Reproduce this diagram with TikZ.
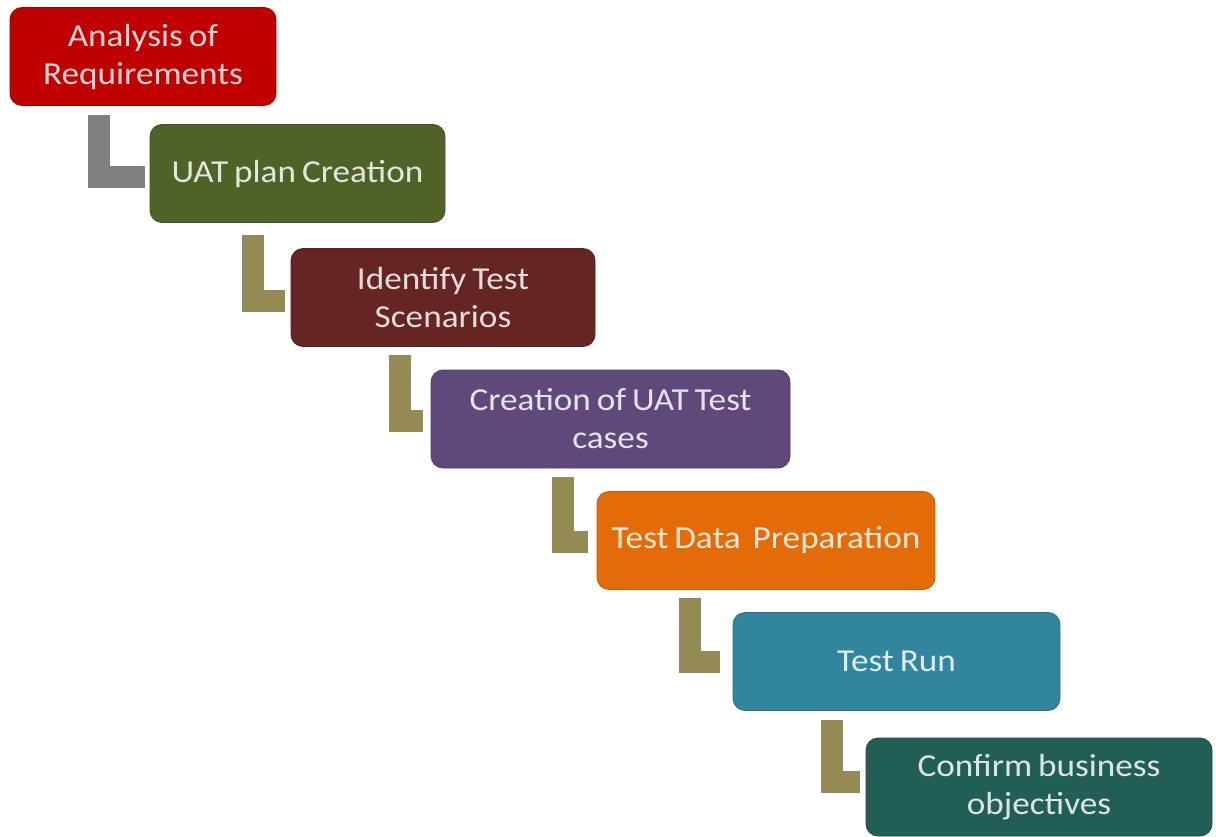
\documentclass[tikz,border=0pt]{standalone}
\usepackage{fontspec}
\setmainfont{Carlito}[FakeStretch=1.1, WordSpace=0.75]
\usetikzlibrary{calc}
\definecolor{cRed}{HTML}{C00000}
\definecolor{cGreen}{HTML}{4F6228}
\definecolor{cMaroon}{HTML}{652523}
\definecolor{cPurple}{HTML}{5F497A}
\definecolor{cOrange}{HTML}{E36C09}
\definecolor{cTeal}{HTML}{31859C}
\definecolor{cDeep}{HTML}{215E56}
\definecolor{cGray}{HTML}{7F7F7F}
\definecolor{cOlive}{HTML}{948A54}
\tikzset{
  stage/.style={draw=#1!85!black, line width=0.8pt, fill=#1, rounded corners=12pt,
    text=white!84!#1, align=center, inner sep=0pt,
    font=\fontsize{32}{38}\selectfont, minimum height=98pt},
  link/.style={line width=22pt, line join=miter, draw=#1},
}
\begin{document}
\begin{tikzpicture}[x=1pt, y=-1pt]
\useasboundingbox (0,0) rectangle (1216,837);
\fill[white] (0,0) rectangle (1216,837);

\node[stage=cRed,    minimum width=266pt] (s1) at (143,56.5)   {Analysis of\\Requirements};
\node[stage=cGreen,  minimum width=295pt] (s2) at (297.5,173.5) {UAT plan Creation};
\node[stage=cMaroon, minimum width=304pt] (s3) at (443,297.5)  {Identify Test\\Scenarios};
\node[stage=cPurple, minimum width=359pt] (s4) at (610.5,419)  {Creation of UAT Test\\cases};
\node[stage=cOrange, minimum width=338pt] (s5) at (766,540.5)  {Test Data\ \ Preparation};
\node[stage=cTeal,   minimum width=327pt] (s6) at (896.5,661.5) {Test Run};
\node[stage=cDeep,   minimum width=346pt] (s7) at (1039,787)   {Confirm business\\objectives};

% L-shaped step connectors
\draw[link=cGray]  ($(s1.south west)+(89,9)$)  |- ($(s2.west)+(-5,4)$);
\draw[link=cOlive] ($(s2.south west)+(103,12)$) |- ($(s3.west)+(-6,3)$);
\draw[link=cOlive] ($(s3.south west)+(109,8)$)  |- ($(s4.west)+(-8,2)$);
\draw[link=cOlive] ($(s4.south west)+(132,9)$)  |- ($(s5.west)+(-9,1)$);
\draw[link=cOlive] ($(s5.south west)+(93,8)$)   |- ($(s6.west)+(-13,0)$);
\draw[link=cOlive] ($(s6.south west)+(99,9)$)   |- ($(s7.west)+(-6,-5)$);
\end{tikzpicture}
\end{document}
